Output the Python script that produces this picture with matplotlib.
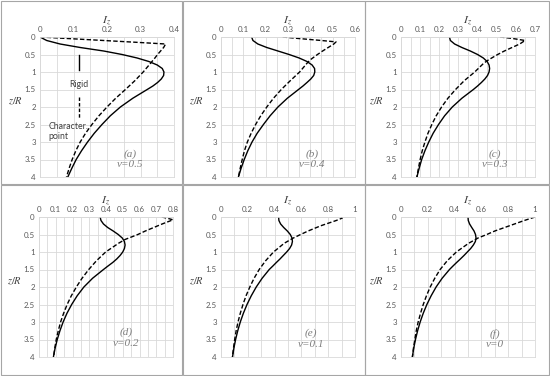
import numpy as np
import matplotlib
matplotlib.use("Agg")
import matplotlib.pyplot as plt
from matplotlib.patches import Rectangle

plt.rcParams['font.family'] = ['Lato', 'DejaVu Sans']
plt.rcParams['mathtext.fontset'] = 'stix'

# ---- data ---------------------------------------------------------------
# rigid footing (solid line)
z_rigid = [0, 0.1, 0.2, 0.3, 0.4, 0.5, 0.6, 0.7, 0.8, 0.9, 1.0, 1.1, 1.2, 1.3, 1.4,
           1.5, 1.75, 2.0, 2.25, 2.5, 2.75, 3.0, 3.25, 3.5, 3.75, 4.0]
iz_rigid_a = [0, 0.02, 0.06, 0.12, 0.19, 0.245, 0.29, 0.325, 0.35, 0.365, 0.37,
              0.369, 0.362, 0.351, 0.337,
              0.32, 0.277, 0.24, 0.21, 0.185, 0.162, 0.142, 0.124, 0.108, 0.095, 0.083]
iz_rigid_b = [0.137, 0.143, 0.165, 0.205, 0.255, 0.305, 0.35, 0.385, 0.408, 0.419, 0.42,
              0.415, 0.402, 0.385, 0.367,
              0.347, 0.297, 0.255, 0.22, 0.19, 0.162, 0.139, 0.12, 0.104, 0.09, 0.078]
iz_rigid_c = [0.253, 0.258, 0.28, 0.318, 0.362, 0.4, 0.43, 0.45, 0.46, 0.463, 0.46,
              0.452, 0.438, 0.42, 0.4,
              0.378, 0.318, 0.268, 0.228, 0.196, 0.168, 0.145, 0.125, 0.108, 0.095, 0.083]
iz_rigid_d = [0.365, 0.37, 0.385, 0.41, 0.443, 0.473, 0.497, 0.51, 0.514, 0.51, 0.5,
              0.484, 0.464, 0.44, 0.412,
              0.385, 0.32, 0.268, 0.228, 0.195, 0.167, 0.144, 0.125, 0.109, 0.096, 0.086]
iz_rigid_e = [0.43, 0.432, 0.445, 0.468, 0.495, 0.517, 0.53, 0.533, 0.527, 0.512, 0.49,
              0.465, 0.44, 0.413, 0.387,
              0.36, 0.307, 0.263, 0.226, 0.194, 0.167, 0.144, 0.125, 0.109, 0.096, 0.086]
iz_rigid_f = [0.5, 0.502, 0.512, 0.528, 0.545, 0.556, 0.56, 0.555, 0.54, 0.52, 0.495,
              0.47, 0.443, 0.415, 0.388,
              0.362, 0.307, 0.262, 0.225, 0.193, 0.166, 0.143, 0.124, 0.108, 0.095, 0.085]

# characteristic point (dashed line)
z_char_a = [0, 0.05, 0.1, 0.15, 0.2, 0.3, 0.4, 0.5, 0.6, 0.75, 1.0, 1.25, 1.5, 1.75,
            2.0, 2.25, 2.5, 2.75, 3.0, 3.25, 3.5, 3.75, 4.0]
iz_char_a = [0, 0.095, 0.19, 0.285, 0.375, 0.369, 0.36, 0.351, 0.343, 0.33, 0.308, 0.283,
             0.255, 0.226, 0.2, 0.176, 0.155, 0.136, 0.12, 0.107, 0.096, 0.087, 0.079]
z_char_b = [0, 0.05, 0.1, 0.14, 0.2, 0.3, 0.4, 0.5, 0.65, 0.75, 1.0, 1.25, 1.5, 1.75,
            2.0, 2.25, 2.5, 2.75, 3.0, 3.25, 3.5, 3.75, 4.0]
iz_char_b = [0.276, 0.36, 0.45, 0.515, 0.505, 0.48, 0.455, 0.432, 0.4, 0.385, 0.352, 0.31,
             0.27, 0.235, 0.205, 0.178, 0.155, 0.135, 0.118, 0.105, 0.095, 0.086, 0.078]
z_char_c = [0, 0.04, 0.1, 0.2, 0.3, 0.4, 0.5, 0.65, 0.75, 1.0, 1.25, 1.5, 1.75,
            2.0, 2.25, 2.5, 2.75, 3.0, 3.25, 3.5, 3.75, 4.0]
iz_char_c = [0.517, 0.58, 0.648, 0.62, 0.58, 0.54, 0.505, 0.458, 0.432, 0.385, 0.33, 0.285,
             0.245, 0.212, 0.184, 0.161, 0.141, 0.125, 0.111, 0.1, 0.091, 0.083]
z_char_d = [0, 0.04, 0.08, 0.2, 0.3, 0.4, 0.5, 0.64, 0.75, 1.0, 1.25, 1.5, 1.75,
            2.0, 2.25, 2.5, 2.75, 3.0, 3.25, 3.5, 3.75, 4.0]
iz_char_d = [0.733, 0.77, 0.8, 0.735, 0.685, 0.635, 0.59, 0.515, 0.475, 0.398, 0.343, 0.297,
             0.257, 0.223, 0.193, 0.168, 0.147, 0.129, 0.115, 0.103, 0.094, 0.087]
z_char_e = [0, 0.03, 0.1, 0.25, 0.4, 0.5, 0.6, 0.75, 1.0, 1.25, 1.5, 1.75,
            2.0, 2.25, 2.5, 2.75, 3.0, 3.25, 3.5, 3.75, 4.0]
iz_char_e = [0.895, 0.905, 0.86, 0.745, 0.65, 0.594, 0.54, 0.472, 0.392, 0.333, 0.285, 0.247,
             0.215, 0.187, 0.164, 0.144, 0.127, 0.113, 0.102, 0.093, 0.085]
z_char_f = [0, 0.1, 0.25, 0.4, 0.5, 0.6, 0.75, 1.0, 1.25, 1.5, 1.75,
            2.0, 2.25, 2.5, 2.75, 3.0, 3.25, 3.5, 3.75, 4.0]
iz_char_f = [1.0, 0.92, 0.81, 0.7, 0.64, 0.575, 0.505, 0.413, 0.345, 0.292, 0.252,
             0.218, 0.19, 0.166, 0.146, 0.128, 0.114, 0.103, 0.093, 0.085]

panel_tags = ['(a)', '(b)', '(c)', '(d)', '(e)', '(f)']
nu_labels = ['ν=0.5', 'ν=0.4', 'ν=0.3', 'ν=0.2', 'ν=0.1', 'ν=0']
x_max = [0.4, 0.6, 0.7, 0.8, 1.0, 1.0]
x_step = [0.1, 0.1, 0.1, 0.1, 0.2, 0.2]
tag_pos = [(0.27, 3.35), (0.41, 3.35), (0.49, 3.35), (0.52, 3.3), (0.67, 3.33), (0.70, 3.33)]

rigid = [iz_rigid_a, iz_rigid_b, iz_rigid_c, iz_rigid_d, iz_rigid_e, iz_rigid_f]
char_z = [z_char_a, z_char_b, z_char_c, z_char_d, z_char_e, z_char_f]
char_iz = [iz_char_a, iz_char_b, iz_char_c, iz_char_d, iz_char_e, iz_char_f]

# legend keys drawn inside panel (a)
key_x = 0.116
key_rigid = (0.52, 0.95)
key_char = (1.71, 2.33)

GRID = '#d9d9d9'
TICK = '#595959'

fig = plt.figure(figsize=(5.5, 3.76), dpi=100)

# panel frames (pixels)
frames = [(1, 1, 182, 184), (183, 1, 365, 184), (365, 1, 549, 184),
          (1, 185, 182, 375), (183, 185, 365, 375), (365, 185, 549, 375)]
for x0, y0, x1, y1 in frames:
    fig.add_artist(Rectangle((x0 / 550, 1 - y1 / 376), (x1 - x0) / 550, (y1 - y0) / 376,
                             transform=fig.transFigure, fill=False,
                             edgecolor='#a6a6a6', lw=0.8))

lefts = [40, 221, 401, 39, 221, 401]
tops = [37, 37, 37, 217, 217, 217]

for i in range(6):
    ax = fig.add_axes([lefts[i] / 550, 1 - (tops[i] + 140) / 376, 134 / 550, 140 / 376])
    xm = x_max[i]
    ax.plot(rigid[i], z_rigid, color='black', lw=1.0)
    ax.plot(char_iz[i], char_z[i], color='black', lw=1.0, dashes=(3.2, 1.6))

    ax.set_xlim(0, xm)
    ax.set_ylim(4, 0)
    nmaj = int(round(xm / x_step[i]))
    xt = np.linspace(0, xm, nmaj + 1)
    ax.set_xticks(xt)
    ax.set_xticklabels(['%g' % round(v, 2) for v in xt])
    ax.set_xticks(np.linspace(0, xm, 2 * nmaj + 1), minor=True)
    yt = np.arange(0, 4.01, 0.5)
    ax.set_yticks(yt)
    ax.set_yticklabels(['%g' % v for v in yt])
    ax.xaxis.tick_top()
    ax.xaxis.set_label_position('top')
    ax.tick_params(which='both', length=0, labelsize=5.7, labelcolor=TICK, pad=3)
    ax.grid(which='major', color=GRID, lw=0.6)
    ax.grid(which='minor', axis='x', color=GRID, lw=0.6)
    ax.set_axisbelow(True)
    for s in ax.spines.values():
        s.set_color(GRID)
        s.set_linewidth(0.6)

    ax.set_xlabel('$I_z$', fontsize=8.5, color='#404040', labelpad=2)
    ax.set_ylabel('$z/R$', fontsize=7.5, color='#404040', rotation=0)
    ax.yaxis.set_label_coords(-0.18, 0.5)

    tx, tz = tag_pos[i]
    ax.text(tx, tz, panel_tags[i], ha='center', va='center', fontsize=8,
            color='#7f7f7f', family=['Liberation Serif'], style='italic')
    ax.text(tx, tz + 0.3, nu_labels[i], ha='center', va='center', fontsize=8,
            color='#7f7f7f', family=['Liberation Serif'], style='italic')

    if i == 0:
        ax.plot([key_x, key_x], key_rigid, color='black', lw=1.0)
        ax.plot([key_x, key_x], key_char, color='black', lw=1.0, dashes=(2.5, 1.5))
        ax.text(key_x, 1.36, 'Rigid', ha='center', va='center', fontsize=6.3, color='#404040')
        ax.text(0.026, 2.55, 'Character.', ha='left', va='center', fontsize=6.3, color='#404040')
        ax.text(0.026, 2.83, 'point', ha='left', va='center', fontsize=6.3, color='#404040')

fig.savefig('out.png', dpi=100)
